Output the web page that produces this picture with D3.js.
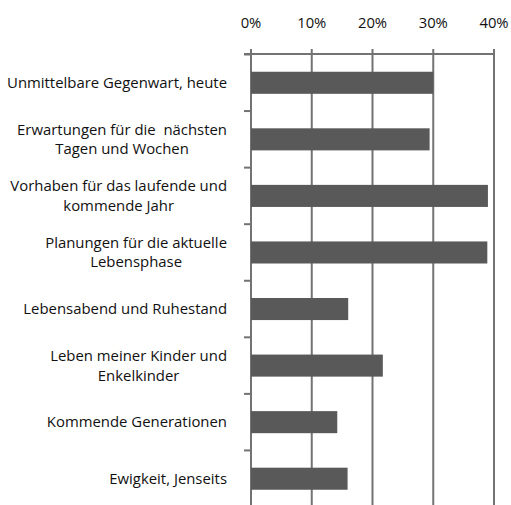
<!DOCTYPE html>
<html>
<head>
<meta charset="utf-8">
<script src="https://cdn.jsdelivr.net/npm/d3@7"></script>
<style>
  body { margin: 0; background: #fff; }
  svg text { font-family: "Open Sans", sans-serif; fill: #111; white-space: pre; }
</style>
</head>
<body>
<svg id="chart" width="511" height="505"></svg>
<script>
// Kategorien (Zeilen umbrochen wie im Original)
const categories = [
	["Unmittelbare Gegenwart, heute"],
	["Erwartungen für die  nächsten", "Tagen und Wochen"],
	["Vorhaben für das laufende und", "kommende Jahr"],
	["Planungen für die aktuelle", "Lebensphase"],
	["Lebensabend und Ruhestand"],
	["Leben meiner Kinder und", "Enkelkinder"],
	["Kommende Generationen"],
	["Ewigkeit, Jenseits"]
];
const values = [0.30, 0.294, 0.390, 0.389, 0.160, 0.217, 0.142, 0.159];
const ticks = [0, 0.1, 0.2, 0.3, 0.4];

const svg = d3.select("#chart");
const keys = categories.map((c, i) => "c" + i);

const x = d3.scaleLinear().domain([0, 0.4]).range([251, 494]);
const y = d3.scaleBand().domain(keys).range([54.5, 507]).paddingInner(0.61).paddingOuter(0.305);

const gridColor = "#737373";

// Gitternetzlinien
svg.append("g").selectAll("line")
	.data(ticks)
	.enter()
	.append("line")
	.attr("x1", d => x(d)).attr("x2", d => x(d))
	.attr("y1", 49).attr("y2", 507)
	.attr("stroke", gridColor)
	.attr("stroke-width", 2);

// Werteachse oben
svg.append("line")
	.attr("x1", 244).attr("x2", x(0.4) + 1)
	.attr("y1", 54).attr("y2", 54)
	.attr("stroke", gridColor)
	.attr("stroke-width", 2);

svg.append("g").selectAll("text")
	.data(ticks)
	.enter()
	.append("text")
	.attr("x", d => x(d))
	.attr("y", 28)
	.attr("text-anchor", "middle")
	.style("font-size", "14.8px")
	.text(d => d3.format(".0%")(d));

// Kategorie-Teilstriche
const step = y.step();
svg.append("g").selectAll("line")
	.data(d3.range(keys.length))
	.enter()
	.append("line")
	.attr("x1", 244).attr("x2", 251)
	.attr("y1", i => y(keys[i]) - y.paddingInner() * step / 2)
	.attr("y2", i => y(keys[i]) - y.paddingInner() * step / 2)
	.attr("stroke", gridColor)
	.attr("stroke-width", 2);

// Balken
svg.append("g").selectAll("rect")
	.data(values)
	.enter()
	.append("rect")
	.attr("x", x(0))
	.attr("y", (d, i) => y(keys[i]))
	.attr("width", d => x(d) - x(0))
	.attr("height", y.bandwidth())
	.attr("fill", "#595959");

// Beschriftungen
const lineH = 19.5;
categories.forEach((lines, i) => {
	const cy = y(keys[i]) + y.bandwidth() / 2;
	const g = svg.append("g");
	const texts = lines.map((t, j) => g.append("text")
		.attr("y", cy + (j - (lines.length - 1) / 2) * lineH)
		.attr("dy", "0.35em")
		.attr("text-anchor", "middle")
		.style("font-size", "14.9px")
		.text(t));
	const w = d3.max(texts, t => t.node().getComputedTextLength());
	texts.forEach(t => t.attr("x", 227 - w / 2));
});
</script>
</body>
</html>
